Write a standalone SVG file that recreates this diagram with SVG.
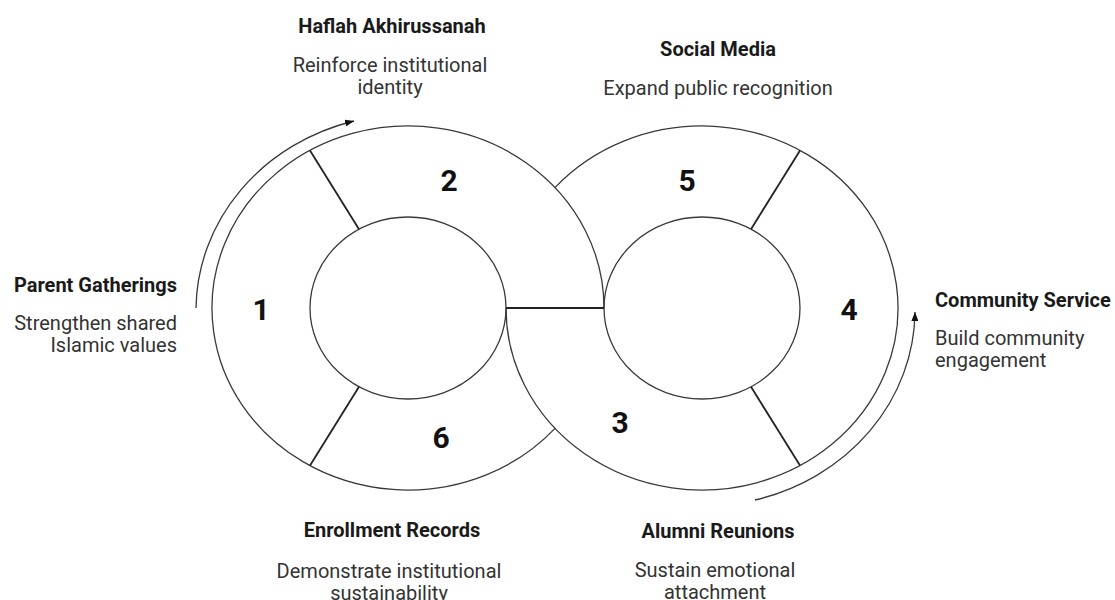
<svg xmlns="http://www.w3.org/2000/svg" width="1115" height="600" viewBox="0 0 1115 600">
  <style>
    .ring { fill: none; stroke: #3a3a3a; stroke-width: 1.3; }
    .divider { fill: none; stroke: #222; stroke-width: 1.8; }
    .flow { fill: none; stroke: #3a3a3a; stroke-width: 1.3; }
    .num { font-family: Roboto, "Liberation Sans", sans-serif; font-weight: 700; font-size: 30px; fill: #111; text-anchor: middle; }
    .title { font-family: Roboto, "Liberation Sans", sans-serif; font-weight: 700; font-size: 20px; fill: #1a1a1a; }
    .desc { font-family: Roboto, "Liberation Sans", sans-serif; font-weight: 400; font-size: 20px; fill: #333; }
    .mid { text-anchor: middle; }
    .end { text-anchor: end; }
    .start { text-anchor: start; }
  </style>
  <defs>
    <marker id="arrowhead" markerUnits="userSpaceOnUse" markerWidth="9" markerHeight="7" refX="9" refY="3.5" orient="auto">
      <path d="M0,0 L9,3.5 L0,7 z" fill="#111"/>
    </marker>
  </defs>
  <rect width="1115" height="600" fill="#fff"/>

  <!-- Figure-eight outline: two rings joined by a crossing band -->
  <g id="rings">
    <path class="ring" d="M 555 428.4 A 196 182 0 1 1 604 308"/>
    <path class="ring" d="M 506 308 A 196 182 0 1 0 555 187.6"/>
    <ellipse class="ring" cx="408" cy="308" rx="98" ry="91"/>
    <ellipse class="ring" cx="702" cy="308" rx="98" ry="91"/>
    <line class="divider" x1="506" y1="308" x2="604" y2="308"/>
    <line class="divider" x1="359" y1="229.2" x2="310" y2="150.4"/>
    <line class="divider" x1="359" y1="386.8" x2="310" y2="465.6"/>
    <line class="divider" x1="751" y1="229.2" x2="800" y2="150.4"/>
    <line class="divider" x1="751" y1="386.8" x2="800" y2="465.6"/>
  </g>

  <!-- Direction of travel around the loop -->
  <g id="connectors">
    <path class="flow" d="M 196 308 A 212 196 0 0 1 354 121" marker-end="url(#arrowhead)"/>
    <path class="flow" d="M 755 500 A 212 196 0 0 0 915 312" marker-end="url(#arrowhead)"/>
  </g>

  <g id="stage-1">
    <text class="num" x="261" y="320">1</text>
    <text class="title end" x="177" y="292">Parent Gatherings</text>
    <text class="desc end" x="177" y="330">Strengthen shared</text>
    <text class="desc end" x="177" y="352">Islamic values</text>
  </g>

  <g id="stage-2">
    <text class="num" x="449" y="191">2</text>
    <text class="title mid" x="392" y="33">Haflah Akhirussanah</text>
    <text class="desc mid" x="390" y="72">Reinforce institutional</text>
    <text class="desc mid" x="390" y="94">identity</text>
  </g>

  <g id="stage-3">
    <text class="num" x="620" y="433">3</text>
    <text class="title mid" x="718" y="538">Alumni Reunions</text>
    <text class="desc mid" x="715" y="577">Sustain emotional</text>
    <text class="desc mid" x="715" y="599">attachment</text>
  </g>

  <g id="stage-4">
    <text class="num" x="849" y="320">4</text>
    <text class="title start" x="935" y="307">Community Service</text>
    <text class="desc start" x="935" y="345">Build community</text>
    <text class="desc start" x="935" y="367">engagement</text>
  </g>

  <g id="stage-5">
    <text class="num" x="687" y="191">5</text>
    <text class="title mid" x="718" y="56">Social Media</text>
    <text class="desc mid" x="718" y="95">Expand public recognition</text>
  </g>

  <g id="stage-6">
    <text class="num" x="441" y="448">6</text>
    <text class="title mid" x="392" y="537">Enrollment Records</text>
    <text class="desc mid" x="389" y="578">Demonstrate institutional</text>
    <text class="desc mid" x="389" y="600">sustainability</text>
  </g>
</svg>
